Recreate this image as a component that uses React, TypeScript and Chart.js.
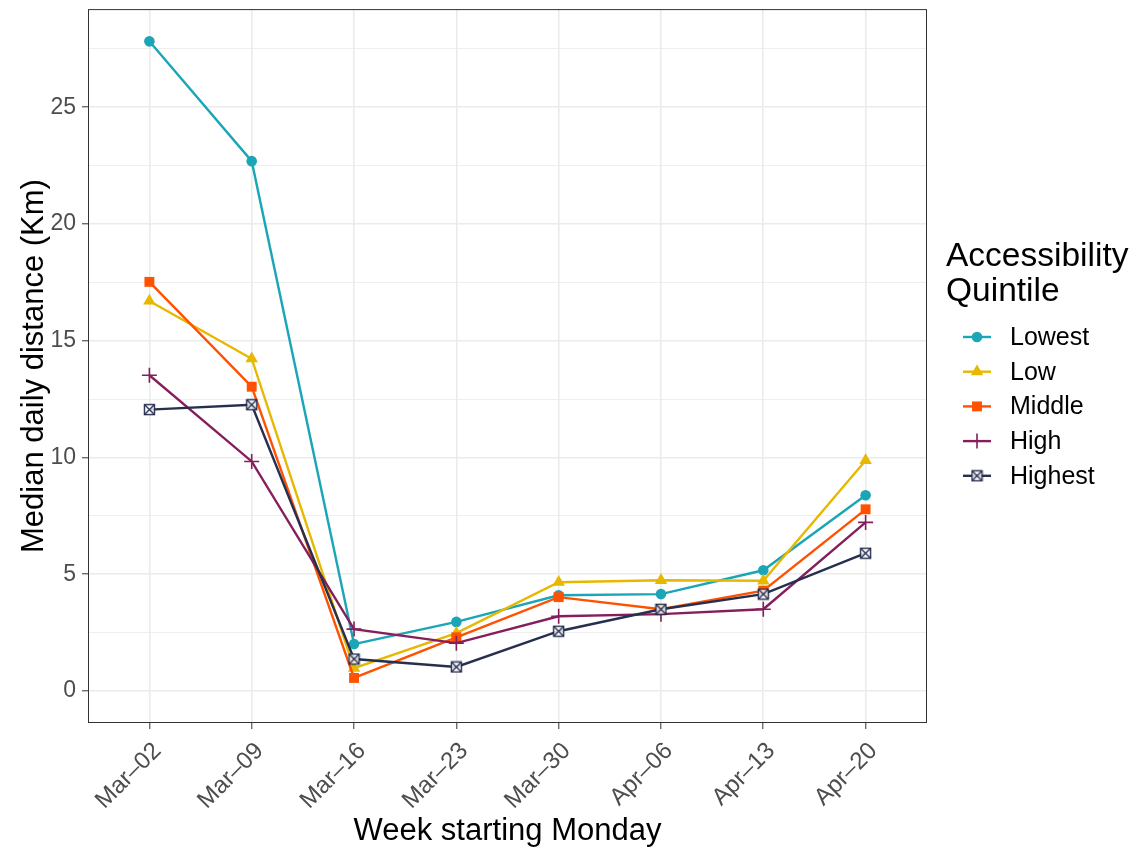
import React, { useEffect, useRef } from "react";
import { Chart, registerables } from "chart.js";
import { drawPoint } from "chart.js/helpers";

Chart.register(...registerables);

const weeks = ["Mar–02", "Mar–09", "Mar–16", "Mar–23", "Mar–30", "Apr–06", "Apr–13", "Apr–20"];
const seriesNames = ["Lowest", "Low", "Middle", "High", "Highest"];
const lowest = [27.82, 22.69, 2.01, 2.96, 4.1, 4.15, 5.17, 8.38];
const low = [16.7, 14.23, 0.98, 2.48, 4.66, 4.74, 4.72, 9.87];
const middle = [17.52, 13.03, 0.56, 2.3, 4.02, 3.5, 4.3, 7.78];
const high = [13.52, 9.83, 2.65, 2.05, 3.2, 3.29, 3.5, 7.22];
const highest = [12.05, 12.26, 1.37, 1.03, 2.56, 3.5, 4.15, 5.9];
const yTicks = [0, 2.5, 5, 7.5, 10, 12.5, 15, 17.5, 20, 22.5, 25, 27.5];

const colors = ["#1AA6B7", "#E6B800", "#FF5100", "#851E5A", "#272F4F"];
const FONT = "'Liberation Sans', Arial, sans-serif";

function makeCrossSquare(color: string) {
  const c = document.createElement("canvas");
  c.width = 13;
  c.height = 13;
  const g = c.getContext("2d")!;
  g.fillStyle = "rgba(255,255,255,0.85)";
  g.fillRect(1, 1, 11, 11);
  g.strokeStyle = color;
  g.lineWidth = 1.4;
  g.strokeRect(1.5, 1.5, 10, 10);
  g.beginPath();
  g.moveTo(1.5, 1.5);
  g.lineTo(11.5, 11.5);
  g.moveTo(11.5, 1.5);
  g.lineTo(1.5, 11.5);
  g.stroke();
  return c;
}

export default function App() {
  const ref = useRef<HTMLCanvasElement>(null);
  useEffect(() => {
    const crossSq = makeCrossSquare(colors[4]);
    const values = [lowest, low, middle, high, highest];
    const styles: any[] = ["circle", "triangle", "rect", "cross", crossSq];
    const radii = [5.3, 7.2, 7, 7.5, 6.5];
    const datasets = values.map((vals, i) => ({
      label: seriesNames[i],
      data: vals.map((v, j) => ({ x: j, y: v })),
      borderColor: colors[i],
      backgroundColor: colors[i],
      borderWidth: 2.4,
      pointStyle: styles[i],
      pointRadius: radii[i],
      pointBorderWidth: i === 3 ? 1.6 : 0,
      pointBackgroundColor: colors[i],
      pointBorderColor: colors[i],
      tension: 0,
      order: 4 - i,
    }));

    const frame = {
      id: "frame",
      afterDatasetsDraw(chart: any) {
        const { ctx, chartArea: a } = chart;
        ctx.save();
        ctx.strokeStyle = "#333333";
        ctx.lineWidth = 1;
        ctx.strokeRect(a.left + 0.5, a.top + 0.5, a.right - a.left - 1, a.bottom - a.top - 1);
        ctx.restore();
      },
      afterDraw(chart: any) {
        const { ctx } = chart;
        ctx.save();
        ctx.fillStyle = "#000";
        ctx.textBaseline = "alphabetic";
        ctx.textAlign = "left";
        ctx.font = `33.5px ${FONT}`;
        ctx.fillText("Accessibility", 946, 266);
        ctx.fillText("Quintile", 946, 301);
        chart.data.datasets.forEach((ds: any, i: number) => {
          const cy = 337 + i * 34.7;
          ctx.strokeStyle = ds.borderColor;
          ctx.lineWidth = 2.4;
          ctx.beginPath();
          ctx.moveTo(963, cy);
          ctx.lineTo(991, cy);
          ctx.stroke();
          ctx.fillStyle = ds.backgroundColor;
          ctx.strokeStyle = ds.borderColor;
          ctx.lineWidth = ds.pointBorderWidth || 0.01;
          drawPoint(ctx, { pointStyle: ds.pointStyle, radius: ds.pointRadius, borderWidth: ds.pointBorderWidth, rotation: 0 } as any, 977, cy);
          ctx.fillStyle = "#000";
          ctx.font = `25px ${FONT}`;
          ctx.textBaseline = "middle";
          ctx.fillText(ds.label, 1010, cy + 1);
        });
        ctx.restore();
      },
    };

    const chart = new Chart(ref.current!, {
      type: "line",
      data: { datasets: datasets as any },
      plugins: [frame],
      options: {
        animation: false,
        responsive: true,
        maintainAspectRatio: false,
        layout: { padding: { left: 0, right: 213, top: 8, bottom: 0 } },
        plugins: { legend: { display: false }, tooltip: { enabled: false } },
        scales: {
          x: {
            type: "linear",
            min: -0.6,
            max: 7.6,
            afterBuildTicks: (s: any) => {
              s.ticks = weeks.map((_, i) => ({ value: i }));
            },
            afterFit: (s: any) => {
              s.height = 127;
              s.paddingLeft = 0;
              s.paddingRight = 0;
            },
            ticks: {
              autoSkip: false,
              minRotation: 45,
              maxRotation: 45,
              padding: 8,
              labelOffset: 8,
              color: "#4D4D4D",
              font: { family: FONT, size: 24 },
              callback: (v: any) => weeks[v] ?? "",
            },
            grid: {
              color: "#EBEBEB",
              lineWidth: 1.6,
              tickLength: 6,
              tickColor: "#333333",
              tickWidth: 1,
            },
            border: { display: false },
            title: {
              display: true,
              text: "Week starting Monday",
              color: "#000",
              font: { family: FONT, size: 31 },
              padding: { top: 2, bottom: 0 },
            },
          },
          y: {
            type: "linear",
            min: -1.37,
            max: 29.2,
            afterBuildTicks: (s: any) => {
              s.ticks = yTicks.map((v) => ({ value: v }));
            },
            afterFit: (s: any) => {
              s.width = 88;
              s.paddingTop = 0;
              s.paddingBottom = 0;
            },
            ticks: {
              autoSkip: false,
              padding: 6,
              color: "#4D4D4D",
              font: { family: FONT, size: 23 },
              callback: (v: any) => (v % 5 === 0 ? String(v) : ""),
            },
            grid: {
              color: "#EBEBEB",
              lineWidth: (c: any) => (c.tick && c.tick.value % 5 === 0 ? 1.6 : 0.8),
              tickLength: 6,
              tickColor: (c: any) => (c.tick && c.tick.value % 5 === 0 ? "#333333" : "rgba(0,0,0,0)"),
              tickWidth: 1,
            },
            border: { display: false },
            title: {
              display: true,
              text: "Median daily distance (Km)",
              color: "#000",
              font: { family: FONT, size: 31 },
              padding: { top: 16, bottom: 0 },
            },
          },
        },
      },
    });
    return () => chart.destroy();
  }, []);
  return (
    <div style={{ position: "fixed", left: 0, top: 0, width: 1140, height: 850, background: "#fff" }}>
      <canvas ref={ref} />
    </div>
  );
}
